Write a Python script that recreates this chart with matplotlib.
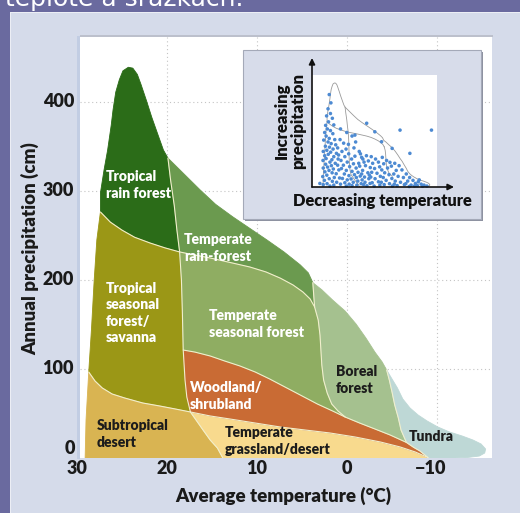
import numpy as np
import matplotlib
matplotlib.use("Agg")
import matplotlib.pyplot as plt
from matplotlib.patches import Polygon, Rectangle, FancyArrowPatch

# ---------------- data: biome boundary curves (temperature °C, precipitation cm) ----------------
left_edge = [(29.1, 0), (29.0, 42.7), (28.7, 96.6), (28.4, 143.8), (28.1, 198.9), (27.8, 245), (27.4, 276.4)]
peak_edge = [(27.4, 276.4), (27.4, 297.8), (27.0, 323.6), (26.6, 346), (26.2, 374), (26.0, 391), (25.7, 411),
             (25.3, 425), (24.9, 435), (24.3, 439), (23.8, 438), (23.3, 431), (22.9, 420), (22.3, 402),
             (21.7, 383), (21.0, 363), (20.4, 346), (19.9, 337)]
trf_top = [(19.9, 337), (19.1, 329), (17.8, 316), (16.3, 301), (14.6, 285), (12.7, 271), (10.8, 258),
           (8.9, 245), (7.0, 231.5), (5.2, 217), (4.3, 208), (3.8, 197)]
boreal_top = [(3.8, 197), (2.8, 189), (1.6, 177.5), (0.2, 165), (-1.0, 150.6), (-2.1, 134.8), (-3.1, 119),
              (-3.9, 108), (-4.4, 99)]
tundra_outer = [(-4.4, 99), (-5.0, 88.8), (-5.6, 78.7), (-6.2, 66.3), (-7.0, 56.2), (-7.9, 48.3), (-8.9, 41.6),
                (-10.1, 34.8), (-11.4, 29.2), (-12.8, 24.7), (-14.0, 20.2), (-14.9, 15.7), (-15.4, 10.1),
                (-15.3, 5.6), (-14.7, 2.2), (-13.4, 0.6), (-12.0, 0)]
rf_right = [(19.9, 337), (19.6, 312), (19.2, 284), (18.9, 256), (18.6, 231.5)]
rf_bottom = [(27.4, 276.4), (26.3, 265), (25.0, 256), (23.6, 248), (21.9, 241.6), (20.2, 236), (18.6, 231.5)]
olive_right = [(18.6, 231.5), (18.4, 200), (18.3, 166), (18.2, 121.3), (18.0, 87.6), (17.8, 68.5), (17.4, 51.7)]
olive_bottom = [(28.7, 96.6), (28.0, 86.5), (27.2, 78.7), (26.1, 71.9), (24.7, 67.4), (22.7, 61.8),
                (20.8, 58.4), (19.1, 55.1), (17.4, 51.7)]
desert_edge = [(17.4, 51.7), (16.7, 41.6), (16.0, 31.5), (15.2, 20.2), (14.4, 11.2), (13.8, 0)]
trf_bottom = [(18.6, 231.5), (16.9, 228), (15.2, 224.7), (12.7, 219), (10.8, 214.6), (9.0, 209), (7.4, 202),
              (6.0, 194.4), (4.9, 186.5), (4.1, 178.7), (3.6, 169.7)]
trf_boreal = [(3.8, 197), (3.7, 183), (3.6, 169.7)]
ts_boreal = [(3.6, 169.7), (3.2, 155), (3.0, 138), (2.9, 121), (2.8, 104.5), (2.6, 87.6), (2.2, 73),
             (1.7, 60.7), (1.0, 52.8), (0.2, 46)]
orange_top = [(18.2, 121.3), (16.9, 119), (15.2, 114.6), (13.6, 109), (11.9, 103.4), (10.2, 96.6), (8.6, 88.8),
              (6.9, 79.8), (5.2, 70.8), (3.3, 60.7), (1.6, 52.8), (0.2, 46), (-1.4, 39.3), (-3.1, 32.6),
              (-4.8, 25.8), (-6.6, 17.5), (-7.4, 12.0), (-8.1, 7.9), (-9.0, 0.5)]
orange_yellow = [(17.4, 51.7), (15.2, 47.2), (13.0, 43.8), (10.2, 39.3), (7.4, 34.8), (4.7, 31.5), (1.9, 28.1),
                 (-0.9, 23.6), (-3.7, 18.0), (-5.9, 12.4), (-7.6, 6.7), (-9.0, 0.5)]
boreal_tundra = [(-4.4, 99), (-4.7, 87.6), (-5.0, 74.2), (-5.3, 59.6), (-5.7, 45), (-6.0, 31.5), (-6.6, 17.5)]

x_ticks = [30, 20, 10, 0, -10]
x_tick_labels = ["30", "20", "10", "0", "\u221210"]
y_ticks = [100, 200, 300, 400]
y_tick_labels = ["100", "200", "300", "400"]

# inset scatter (climate stations): temperature, precipitation
inset_temp = [26.5, 25.8, 27.0, 26.0, 27.6, 25.2, 26.8, 28.0, 24.6, 27.3, 26.0, 28.4, 25.0, 27.8, 26.5, 24.2, 28.8,
              27.0, 25.7, 23.8, 28.1, 26.4, 24.9, 27.5, 29.0, 25.9, 23.5, 26.9, 28.4, 24.6, 27.8, 25.4, 22.8, 29.1,
              26.2, 24.0, 28.0, 25.6, 23.0, 27.2, 29.0, 24.8, 26.6, 22.5, 28.3, 25.3, 23.6, 27.5, 29.2, 24.4, 26.5,
              22.2, 28.5, 25.2, 23.4, 27.4, 29.0, 24.6, 26.2, 21.8,
              22.0, 20.5, 23.0, 21.2, 19.5, 22.6, 20.0, 18.4, 21.6, 19.0, 17.2, 20.6, 18.0, 16.4, 21.4, 19.4, 17.0,
              15.3, 20.2, 18.3, 16.0, 14.5, 21.0, 19.0, 17.4, 15.2, 13.6, 20.0, 18.2, 16.5, 14.6, 12.8, 19.4, 17.0,
              15.0, 13.2, 11.6,
              21.8, 19.2, 17.0, 15.5, 18.5, 16.2, 14.0, 13.0, 15.8, 12.0, 14.2,
              10.9, 7.5, -3.0, -16.1, -7.1, 0.3, 15.8, 4.7,
              13.5, 11.0, 12.5, 10.2, 13.8, 11.4, 12.6, 10.4, 13.0, 11.8, 10.0, 12.2, 10.8, 9.5,
              9.0, 7.2, 8.4, 6.0, 9.4, 7.6, 5.5, 8.8, 6.6, 5.2, 9.2, 7.4, 6.0, 8.6, 5.4, 7.8, 9.8,
              4.4, 2.6, 3.8, 1.2, 4.6, 2.2, 0.6, 3.4, 1.6, 4.0, 0.4, 2.8, 1.4, 3.6, 0.2, 4.8,
              -0.8, -2.6, -1.4, -3.8, -0.4, -2.2, -4.4, -1.0, -3.2, -4.8, -1.8, -0.6,
              -5.6, -7.0, -6.2, -8.4, -5.4, -7.6, -9.4, -9.0, -6.8,
              -10.6, -11.8, -10.2, -13.0, -12.4, -14.2, -11.0, 30.4]
inset_precip = [390, 355, 330, 310, 300, 290, 275, 260, 262, 245, 238, 230, 225, 215, 205, 200, 198,
                190, 183, 178, 172, 168, 160, 155, 150, 147, 142, 138, 132, 128, 120, 115, 118, 112,
                105, 100, 96, 90, 92, 84, 80, 76, 70, 72, 64, 60, 56, 50, 44, 40, 35,
                38, 28, 24, 20, 14, 10, 8, 4, 12,
                200, 185, 165, 150, 160, 135, 128, 140, 112, 105, 118, 92, 86, 98, 78, 70, 66,
                80, 55, 48, 52, 62, 36, 30, 34, 40, 46, 18, 12, 20, 25, 30, 4, 6,
                8, 14, 20,
                245, 230, 215, 190, 180, 165, 150, 125, 130, 105, 100,
                269, 233, 240, 240, 142, 163, 219, 191,
                140, 132, 118, 110, 88, 90, 70, 60, 55, 42, 35, 10, 5, 15,
                128, 118, 100, 105, 82, 78, 85, 62, 58, 45, 42, 35, 22, 18, 8, 4, 50,
                125, 112, 98, 104, 72, 80, 88, 60, 52, 40, 36, 28, 14, 10, 4, 20,
                100, 90, 70, 72, 55, 45, 40, 25, 20, 10, 6, 12,
                55, 40, 25, 28, 14, 8, 15, 4, 2,
                22, 12, 6, 8, 3, 4, 30, 15]

# ---------------- figure ----------------
W, H = 520, 513
fig = plt.figure(figsize=(W / 100, H / 100), dpi=100)
fig.patch.set_facecolor('#6a6a9f')


def fr(x0, y0, x1, y1):
    return [x0 / W, 1 - y1 / H, (x1 - x0) / W, (y1 - y0) / H]


def add_rect(x0, y0, x1, y1, fc, ec='none', lw=0, z=-5):
    r = Rectangle((x0 / W, 1 - y1 / H), (x1 - x0) / W, (y1 - y0) / H, transform=fig.transFigure,
                  facecolor=fc, edgecolor=ec, linewidth=lw, zorder=z)
    fig.add_artist(r)
    return r


add_rect(10, 12, 521, 514, '#eceef5', z=-6)
add_rect(11, 13, 521, 514, '#d5dbea', z=-5)
add_rect(77, 36, 80, 459, '#c2cde3', z=-4)
add_rect(80, 35, 493, 37, '#bcc0cc', z=-4)

FONT = ['Lato', 'DejaVu Sans']
HEAVY = 'heavy'
fig.text(5 / W, 1 - 6 / H, "teplotě a srážkách.", color='white', fontsize=18, family=['DejaVu Sans'],
         ha='left', va='baseline')

ax = fig.add_axes(fr(80, 37, 492, 458))
ax.set_xlim(29.67, -16.11)
ax.set_ylim(0, 473)
ax.set_facecolor('white')
for s in ax.spines.values():
    s.set_visible(False)
ax.set_xticks([])
ax.set_yticks([])

grid_kw = dict(color='#c4c4c4', lw=0.8, linestyle=(0, (1, 2.5)), zorder=1)
for t in x_ticks[1:]:
    ax.axvline(t, **grid_kw)
for p in y_ticks:
    ax.axhline(p, **grid_kw)


def rv(a):
    return a[::-1]


polys = {
    'rf': (peak_edge + rf_right + rv(rf_bottom), '#2b6c18'),
    'trf': (trf_top + trf_boreal + rv(trf_bottom) + rv(rf_right), '#6b9a4f'),
    'olive': (left_edge[2:] + rf_bottom + olive_right + rv(olive_bottom), '#9b9716'),
    'desert': (left_edge[:3] + olive_bottom + desert_edge + [(29.1, 0)], '#d9b452'),
    'grass': (orange_yellow + [(-9.0, 0)] + rv(desert_edge), '#f8da8e'),
    'orange': (orange_top + rv(orange_yellow) + rv(olive_right[3:]), '#c96b34'),
    'ts': (trf_bottom + ts_boreal + rv(orange_top[:12]) + rv(olive_right[:4]), '#8fad62'),
    'boreal': (boreal_top + boreal_tundra + rv(orange_top[11:16]) + rv(ts_boreal) + rv(trf_boreal), '#a5c18f'),
    'tundra': (tundra_outer + [(-9.0, 0)] + rv(orange_top[15:]) + rv(boreal_tundra), '#bed8d6'),
}
for name, (pts, col) in polys.items():
    ax.add_patch(Polygon(np.array(pts), closed=True, facecolor=col, edgecolor=col, lw=0.6, zorder=2))

for curve in [rf_right, rf_bottom, olive_right, olive_bottom, desert_edge, orange_yellow, orange_top,
              trf_bottom, ts_boreal, trf_boreal, boreal_tundra]:
    c = np.array(curve)
    ax.plot(c[:, 0], c[:, 1], color='#f1efcc', lw=0.8, zorder=3, solid_capstyle='round')

# biome labels
lab_kw = dict(fontsize=10, fontweight=HEAVY, family=FONT, ha='left', va='center', linespacing=1.3, zorder=5)


def T(x):
    return (347 - x) / 9


def P(y):
    return (458 - y) / 0.89


labels = [
    ("Tropical\nrain forest", 106, 185, 'white'),
    ("Temperate\nrain-forest", 184, 248, 'white'),
    ("Tropical\nseasonal\nforest/\nsavanna", 106, 313, 'white'),
    ("Temperate\nseasonal forest", 209, 324, 'white'),
    ("Woodland/\nshrubland", 190, 396, 'white'),
    ("Boreal\nforest", 336, 380, '#1c1c1c'),
    ("Subtropical\ndesert", 97, 434, '#1c1c1c'),
    ("Temperate\ngrassland/desert", 225, 441, '#1c1c1c'),
    ("Tundra", 409, 437, '#1c1c1c'),
]
for txt, xp, yp, col in labels:
    ax.text(T(xp), P(yp), txt, color=col, **lab_kw)

tick_kw = dict(fontsize=13, fontweight=HEAVY, family=FONT, color='#1a1a1a', clip_on=False)
for p, lab in zip(y_ticks, y_tick_labels):
    ax.text(T(74), p, lab, ha='right', va='center', **tick_kw)
ax.text(T(75), P(449), "0", ha='right', va='center', **tick_kw)
for t, lab in zip(x_ticks, x_tick_labels):
    xt = t if lab != "\u221210" else t + 0.75
    ax.text(xt, P(468), lab, ha='center', va='center', **tick_kw)

fig.text(30 / W, 1 - 249 / H, "Annual precipitation (cm)", rotation=90, ha='center', va='center',
         fontsize=13.5, fontweight=HEAVY, family=FONT, color='#1a1a1a')
fig.text(283 / W, 1 - 496 / H, "Average temperature (\u00b0C)", ha='center', va='center',
         fontsize=13.5, fontweight=HEAVY, family=FONT, color='#1a1a1a')

# ---------------- inset ----------------
add_rect(245, 52, 483, 221, '#8d91a0', z=1)
add_rect(243, 50, 481, 219, '#d7dcea', ec='#a4a9b8', lw=0.8, z=1.1)
iax = fig.add_axes(fr(312, 75, 437, 187))
iax.set_zorder(2)
iax.set_xlim(33.68, -18.4)
iax.set_ylim(0, 472.6)
iax.set_facecolor('white')
for s in iax.spines.values():
    s.set_visible(False)
iax.set_xticks([])
iax.set_yticks([])
outer = np.array(left_edge + peak_edge + trf_top + boreal_top + tundra_outer)
iax.plot(outer[:, 0], outer[:, 1], color='#9a9a9a', lw=0.6, zorder=1)
for curve in [rf_right + olive_right + desert_edge, rf_bottom + trf_bottom, ts_boreal]:
    c = np.array(curve)
    iax.plot(c[:, 0], c[:, 1], color='#9a9a9a', lw=0.6, zorder=1)
iax.scatter(inset_temp, inset_precip, s=6.5, color='#4d8ad2', edgecolors='none', zorder=2, clip_on=False)

for a, b in [((312, 187), (312, 58)), ((312, 187), (454, 187))]:
    fig.add_artist(FancyArrowPatch((a[0] / W, 1 - a[1] / H), (b[0] / W, 1 - b[1] / H),
                                   transform=fig.transFigure, arrowstyle='-|>', mutation_scale=9,
                                   lw=1.2, color='#111111', zorder=4, shrinkA=0, shrinkB=0))
fig.text(290 / W, 1 - 121 / H, "Increasing\nprecipitation", rotation=90, ha='center', va='center',
         multialignment='center', fontsize=12, fontweight=HEAVY, family=FONT, color='#111111',
         linespacing=1.0, zorder=4)
fig.text(382 / W, 1 - 201 / H, "Decreasing temperature", ha='center', va='center',
         fontsize=11.8, fontweight=HEAVY, family=FONT, color='#111111', zorder=4)

fig.savefig("out.png", dpi=100, facecolor=fig.get_facecolor())
